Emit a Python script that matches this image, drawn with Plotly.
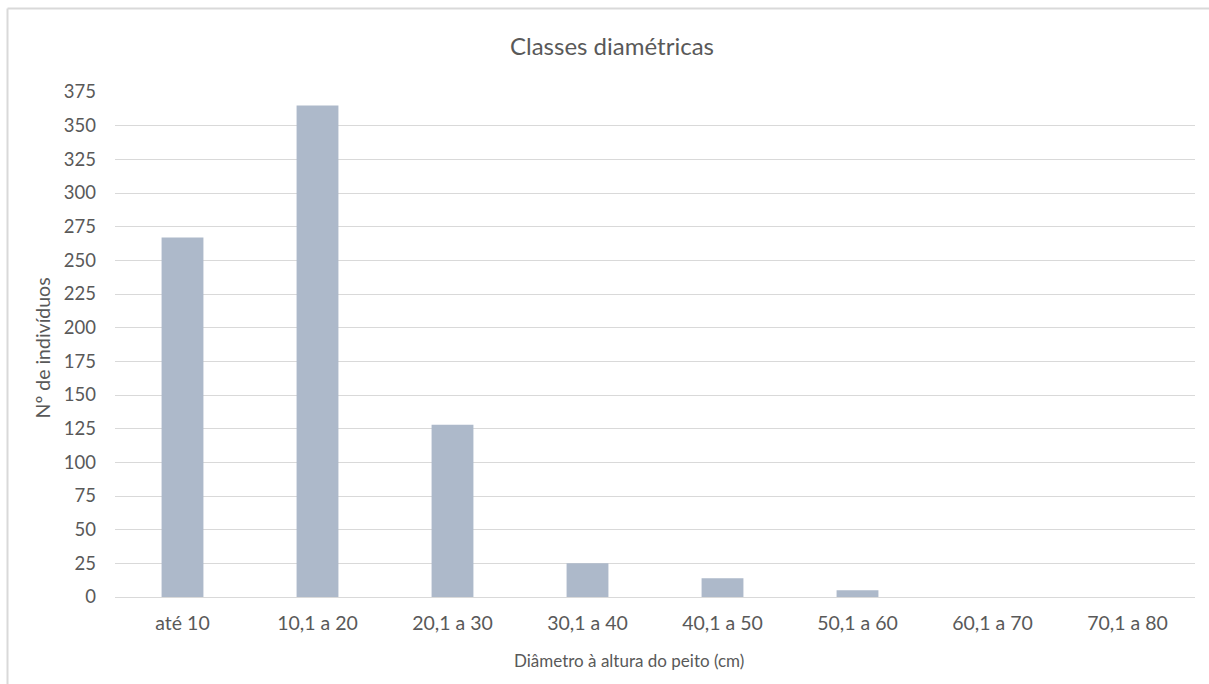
import plotly.graph_objects as go

categories = ["até 10", "10,1 a 20", "20,1 a 30", "30,1 a 40", "40,1 a 50", "50,1 a 60", "60,1 a 70", "70,1 a 80"]
values = [267, 365, 128, 25, 14, 5, 0, 0]

title_text = "Classes diamétricas"
x_title = "Diâmetro à altura do peito (cm)"
y_title = "Nº de indivíduos"

font_family = "Lato, Carlito, 'Open Sans', sans-serif"
text_color = "#595959"
grid_color = "#d9d9d9"

fig = go.Figure(go.Bar(x=categories, y=values, marker=dict(color="#adb9ca", line=dict(width=0)), width=0.31))

W, H = 1209, 684
L, R, T, B = 115, 14, 92, 87

fig.update_layout(
    width=W, height=H,
    margin=dict(l=L, r=R, t=T, b=B, pad=0),
    paper_bgcolor="white", plot_bgcolor="white",
    font=dict(family=font_family, color=text_color, size=19),
    showlegend=False,
    xaxis=dict(showgrid=False, ticks="", tickfont=dict(size=19.5, color=text_color),
               showline=False, zeroline=False, ticklabelstandoff=12),
    yaxis=dict(range=[0, 375], dtick=25, tick0=0,
               showgrid=True, gridcolor=grid_color, gridwidth=1, zeroline=True, zerolinecolor=grid_color,
               zerolinewidth=1, ticks="", tickfont=dict(size=18.5, color=text_color), ticklabelstandoff=18),
)

pw, ph = W - L - R, H - T - B

def px_x(x):
    return (x - L) / pw

def px_y(y):
    return (H - B - y) / ph

# Title
fig.add_annotation(text=title_text, xref="paper", yref="paper", x=px_x(611.5), y=px_y(46),
                   xanchor="center", yanchor="middle", showarrow=False,
                   font=dict(size=24, color=text_color, family=font_family))
# X axis title
fig.add_annotation(text=x_title, xref="paper", yref="paper", x=px_x(629), y=px_y(660),
                   xanchor="center", yanchor="middle", showarrow=False,
                   font=dict(size=17, color=text_color, family=font_family))
# Y axis title
fig.add_annotation(text=y_title, xref="paper", yref="paper", x=px_x(41.5), y=px_y(348),
                   xanchor="center", yanchor="middle", showarrow=False, textangle=-90,
                   font=dict(size=19.5, color=text_color, family=font_family))

x_left = px_x(7.5)
y_top = px_y(8.5)
fig.add_shape(type="line", xref="paper", yref="paper", x0=x_left, x1=x_left, y0=y_top, y1=-1.0,
              line=dict(color=grid_color, width=2), layer="below")
fig.add_shape(type="line", xref="paper", yref="paper", x0=x_left, x1=1.5, y0=y_top, y1=y_top,
              line=dict(color=grid_color, width=2), layer="below")

fig.write_html("out.html")
